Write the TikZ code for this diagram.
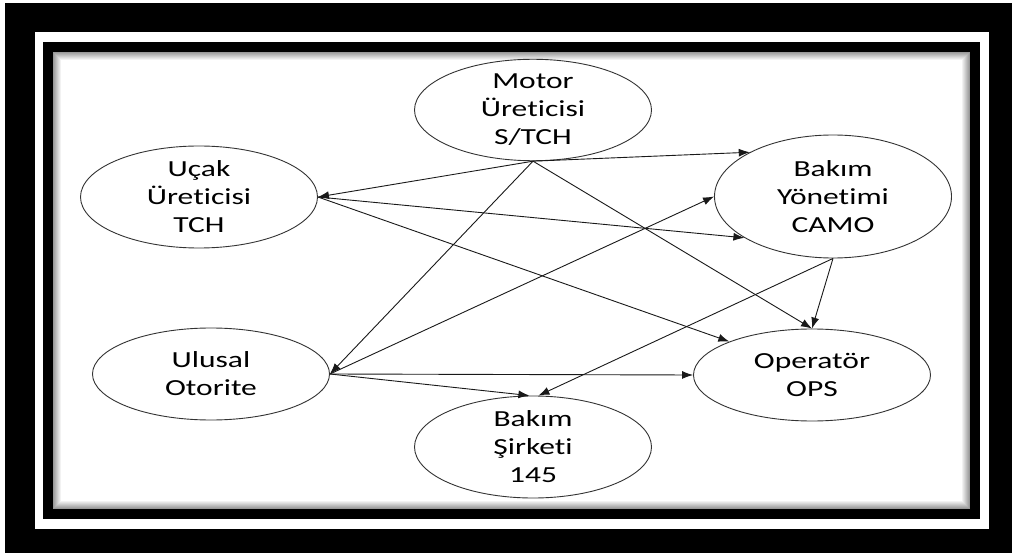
\documentclass[tikz,border=0pt]{standalone}
\usepackage{fontspec}
\setmainfont{Carlito}[FakeStretch=1.37,Ligatures={NoCommon,NoContextual}]
\usetikzlibrary{shapes.geometric,arrows.meta}
\begin{document}
\begin{tikzpicture}[x=1pt,y=-1pt,
  ell/.style={ellipse,draw=black!80,line width=0.9pt,fill=white,inner sep=0pt,
    align=center,font=\fontsize{23}{28}\selectfont,minimum width=237pt,minimum height=93pt},
  arr/.style={draw=black!90,line width=0.9pt,-{Latex[length=11pt,width=8pt]}}]
\useasboundingbox (0,0) rectangle (1012,553);
% frame
\fill[white] (0,0) rectangle (1012,553);
\fill[black] (5,3) rectangle (1012,553);
\fill[white] (35,32) rectangle (989,529);
\fill[black] (43,42) rectangle (980,519);
\fill[white] (53,52) rectangle (970,509);
\foreach \i [evaluate=\i as \g using 40-5*\i] in {0,...,7}
  \draw[line width=1pt,draw=black!\g] (53.5+\i,52.5+\i) rectangle (969.5-\i,508.5-\i);
% nodes
\node[ell] (motor) at (533,110) {Motor\\Üreticisi\\S/TCH};
\node[ell] (ucak) at (199,197) {Uçak\\Üreticisi\\TCH};
\node[ell,minimum height=123pt] (camo) at (833,196.5) {Bakım\\Yönetimi\\CAMO};
\node[ell,minimum height=92pt] (ulusal) at (211,374) {Ulusal\\Otorite};
\node[ell,minimum height=92pt] (ops) at (812,375) {Operatör\\OPS};
\node[ell] (bakim) at (533,447) {Bakım\\Şirketi\\145};
% connectors
\draw[arr] (motor.south) -- (ucak.east);
\draw[arr] (motor.south) -- (camo.152.6);
\draw[arr] (motor.south) -- (ulusal.east);
\draw[arr] (motor.south) -- (ops.north);
\draw[arr] (ucak.east) -- (camo.205);
\draw[arr] (ucak.east) -- (ops.158.8);
\draw[arr] (ulusal.east) -- (camo.west);
\draw[arr] (ulusal.east) -- (ops.west);
\draw[arr] (ulusal.east) -- (bakim.94);
\draw[arr] (camo.south) -- (bakim.84);
\draw[arr] (camo.south) -- (ops.north);
\end{tikzpicture}
\end{document}
